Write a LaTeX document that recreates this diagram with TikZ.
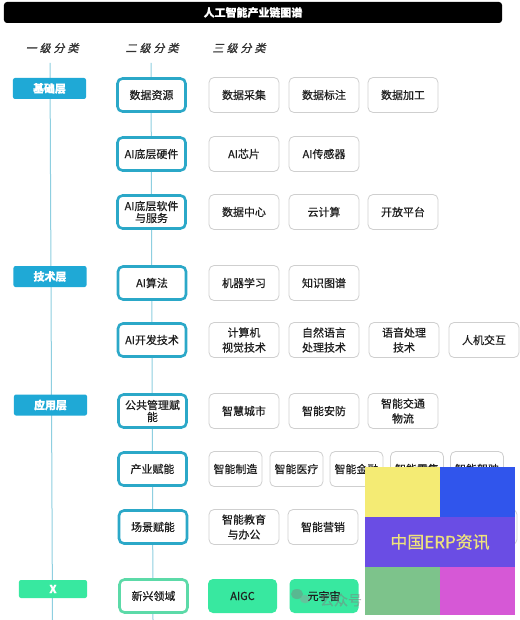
\documentclass[tikz,border=0pt]{standalone}
\usepackage{fontspec}
\setmainfont{Noto Sans CJK SC}[FakeBold=0.6]
\newfontfamily\hdrfont{Noto Sans CJK SC}[FakeSlant=0.25,FakeBold=1.4]
\definecolor{lonec}{HTML}{1FA9D6}
\definecolor{ltwoc}{HTML}{2BA8C8}
\definecolor{lthreec}{HTML}{CFCFCF}
\definecolor{linec}{HTML}{8ECFE0}
\definecolor{greenfill}{HTML}{38E8A0}
\definecolor{greenline}{HTML}{5CDAA8}
\definecolor{logoyellow}{HTML}{F4EB74}
\definecolor{logoblue}{HTML}{3055EC}
\definecolor{logopurple}{HTML}{6A4DE4}
\definecolor{logogreen}{HTML}{7DC38B}
\definecolor{logomagenta}{HTML}{D658D6}
\definecolor{logotext}{HTML}{EEE27C}
\tikzset{
  base/.style={inner sep=0pt, align=center, font=\fontsize{11}{15}\selectfont, text=black!88},
  lone/.style={base, fill=lonec, text=white, font=\bfseries\fontsize{11}{13}\selectfont, minimum width=73bp, minimum height=21bp, rounded corners=2bp},
  ltwo/.style={base, draw=ltwoc, line width=2.6bp, fill=white, rounded corners=5bp, minimum width=68bp, minimum height=33bp},
  lthree/.style={base, draw=lthreec, line width=0.8bp, fill=white, rounded corners=5bp, minimum width=70bp, minimum height=35bp},
  lnarrow/.style={lthree, minimum width=53bp},
  gbox/.style={base, fill=greenfill, rounded corners=5bp, minimum width=69bp, minimum height=34bp},
  vline/.style={draw=linec, line width=1bp},
  hdr/.style={font=\hdrfont\fontsize{11}{13}\selectfont, text=black!80}
}
\begin{document}
\begin{tikzpicture}[x=1bp,y=-1bp]
\fill[white] (0,0) rectangle (520,620);
\useasboundingbox (0,0) rectangle (520,620);

% title
\node[fill=black, rounded corners=3bp, minimum width=498bp, minimum height=21bp, inner sep=0pt,
      text=white, font=\bfseries\fontsize{11}{13}\selectfont] (title) at (253,12.5) {人工智能产业链图谱};

% headers
\node[hdr] (h1) at (52,48) {一\hspace{3bp}级\hspace{3bp}分\hspace{3bp}类};
\node[hdr] (h2) at (152,48) {二\hspace{3bp}级\hspace{3bp}分\hspace{3bp}类};
\node[hdr] (h3) at (239,48) {三\hspace{3bp}级\hspace{3bp}分\hspace{3bp}类};

% vertical lines
\coordinate (t1) at (50,63);
\coordinate (b1) at (52.5,620);
\coordinate (t2) at (151,63);
\coordinate (b2) at (153,620);
\draw[vline] (t1) -- (b1);
\draw[vline] (t2) -- (b2);

% level 1
\node[lone] (jc) at (49.5,88.5) {基础层};
\node[lone] (js) at (50,276.5) {技术层};
\node[lone] (yy) at (50.5,405) {应用层};
\node[lone, fill=greenfill, minimum width=68bp, minimum height=18bp] (xx) at (53,589) {X};

% level 2
\node[ltwo] (sjzy) at (151.5,95) {数据资源};
\node[ltwo] (yj) at (151.5,154) {AI底层硬件};
\node[ltwo] (rj) at (151.5,212) {AI底层软件\\[-3bp]与服务};
\node[ltwo] (sf) at (152,283) {AI算法};
\node[ltwo] (kf) at (152,340) {AI开发技术};
\node[ltwo] (gg) at (152.5,411) {公共管理赋\\[-3bp]能};
\node[ltwo] (cy) at (152.5,469) {产业赋能};
\node[ltwo] (cj) at (153,527) {场景赋能};
\node[ltwo, draw=greenline] (xx2) at (153.5,596) {新兴领域};

% level 3 row 1
\node[lthree] (a1) at (244,95) {数据采集};
\node[lthree] (a2) at (324,95) {数据标注};
\node[lthree] (a3) at (403,95) {数据加工};
% row 2
\node[lthree] (b1n) at (244,154) {AI芯片};
\node[lthree] (b2n) at (324,154) {AI传感器};
% row 3
\node[lthree] (c1) at (244,212) {数据中心};
\node[lthree] (c2) at (324,212) {云计算};
\node[lthree] (c3) at (403,212) {开放平台};
% row 4
\node[lthree] (d1) at (244,283) {机器学习};
\node[lthree] (d2) at (324,283) {知识图谱};
% row 5
\node[lthree] (e1) at (244,340) {计算机\\视觉技术};
\node[lthree] (e2) at (324,340) {自然语言\\处理技术};
\node[lthree] (e3) at (404,340) {语音处理\\技术};
\node[lthree] (e4) at (484,340) {人机交互};
% row 6
\node[lthree] (f1) at (244,411) {智慧城市};
\node[lthree] (f2) at (324,411) {智能安防};
\node[lthree] (f3) at (403,411) {智能交通\\物流};
% row 7
\node[lnarrow] (g1) at (235.5,469) {智能制造};
\node[lnarrow] (g2) at (296.5,469) {智能医疗};
\node[lnarrow] (g3) at (356.5,469) {智能金融};
\node[lnarrow] (g4) at (417,469) {智能零售};
\node[lnarrow] (g5) at (477,469) {智能驾驶};
% row 8
\node[lthree] (h1n) at (244,527) {智能教育\\与办公};
\node[lthree] (h2n) at (323,527) {智能营销};
\node[lthree] (h3n) at (403,527) {};
\node[lthree] (h4n) at (482,527) {};
% row 9
\node[gbox] (i1) at (242.5,596) {AIGC};
\node[gbox] (i2) at (324,596) {元宇宙};

% watermark
\begin{scope}[opacity=0.45]
\fill[gray] (297,594) ellipse (6bp and 5bp);
\fill[gray!80] (305,599) ellipse (5bp and 4.2bp);
\node[text=gray, font=\fontsize{14}{16}\selectfont, inner sep=0pt] (wm) at (341,600) {公众号};
\end{scope}

% logo
\fill[logoyellow] (365,467) rectangle (440,517);
\fill[logoblue] (440,467) rectangle (515,517);
\fill[logopurple] (365,517) rectangle (515,567);
\fill[logogreen] (365,567) rectangle (440,615);
\fill[logomagenta] (440,567) rectangle (515,615);
\node[text=logotext, font=\fontsize{17}{19}\selectfont, inner sep=0pt] (logo) at (440,542) {中国ERP资讯};
\end{tikzpicture}
\end{document}
